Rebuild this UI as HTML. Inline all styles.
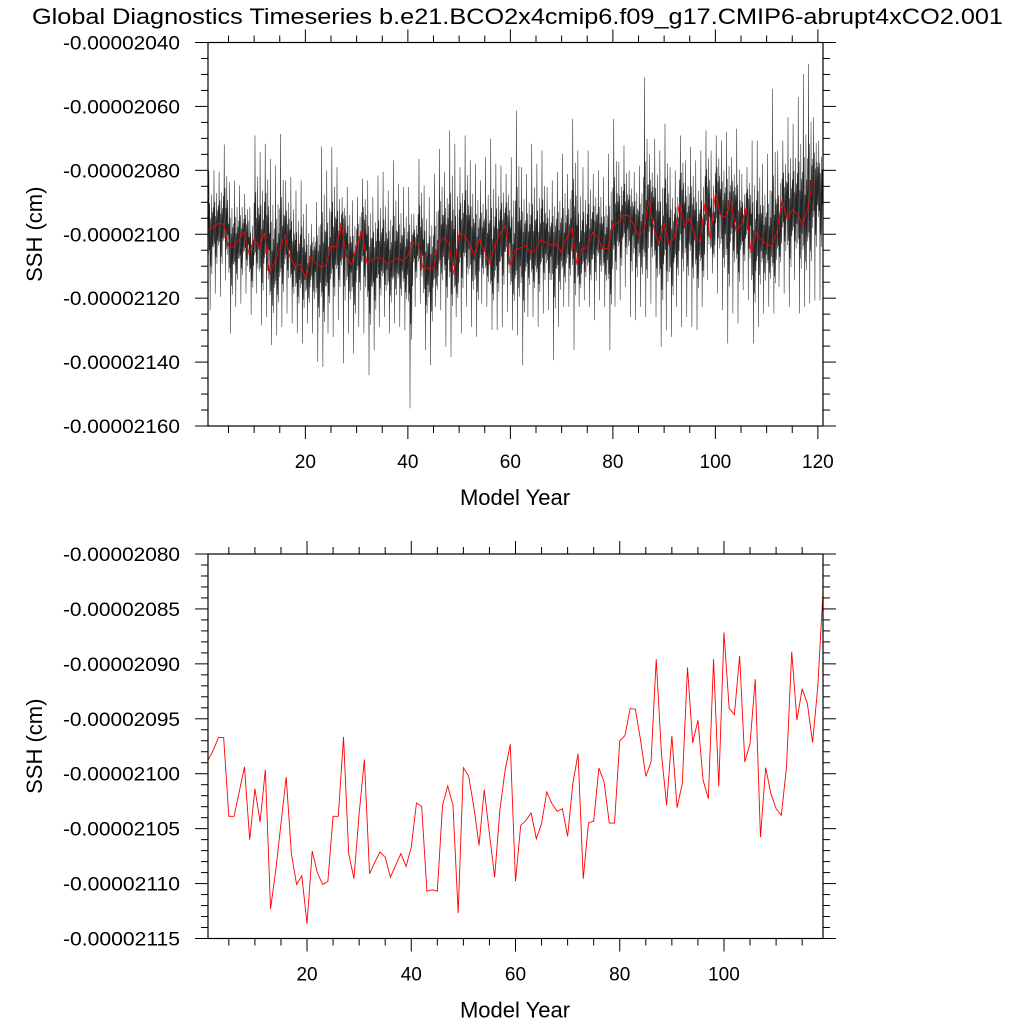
<!DOCTYPE html>
<html><head><meta charset="utf-8"><style>
html,body{margin:0;padding:0;background:#fff;}
svg{display:block;font-family:"Liberation Sans",Arial,sans-serif;}
</style></head><body>
<svg id="chart" width="1024" height="1024" viewBox="0 0 1024 1024" xmlns="http://www.w3.org/2000/svg">
<rect width="1024" height="1024" fill="#fff"/>
<text x="32" y="24" font-size="22" textLength="971" lengthAdjust="spacingAndGlyphs">Global Diagnostics Timeseries b.e21.BCO2x4cmip6.f09_g17.CMIP6-abrupt4xCO2.001</text>
<g id="top"></g>
<g id="bot"></g>
</svg>
<script>
// Annual mean SSH (x1e-5 cm), years 1..119
const annualMean = [-2.09877,-2.09787,-2.09671,-2.09671,-2.10388,-2.10388,-2.10163,-2.09938,-2.10601,-2.10136,
-2.10440,-2.09963,-2.11230,-2.10880,-2.10455,-2.10030,-2.10728,-2.11008,-2.10929,-2.11366,
-2.10704,-2.10905,-2.11008,-2.10981,-2.10388,-2.10388,-2.09665,-2.10728,-2.10956,-2.10364,
-2.09872,-2.10911,-2.10805,-2.10713,-2.10759,-2.10941,-2.10835,-2.10728,-2.10844,-2.10668,
-2.10267,-2.10297,-2.11069,-2.11057,-2.11069,-2.10288,-2.10112,-2.10288,-2.11269,-2.09945,
-2.10020,-2.10303,-2.10653,-2.10145,-2.10546,-2.10941,-2.10333,-2.09969,-2.09732,-2.10978,
-2.10470,-2.10425,-2.10358,-2.10592,-2.10455,-2.10166,-2.10273,-2.10343,-2.10318,-2.10571,
-2.10090,-2.09817,-2.10956,-2.10449,-2.10431,-2.09948,-2.10075,-2.10449,-2.10449,-2.09702,
-2.09653,-2.09407,-2.09413,-2.09695,-2.10024,-2.09893,-2.08957,-2.09817,-2.10288,-2.09656,
-2.10309,-2.10090,-2.09033,-2.09720,-2.09513,-2.10060,-2.10227,-2.08957,-2.10115,-2.08714,
-2.09407,-2.09461,-2.08927,-2.09893,-2.09726,-2.09139,-2.10577,-2.09945,-2.10182,-2.10318,
-2.10379,-2.09938,-2.08890,-2.09513,-2.09227,-2.09361,-2.09717,-2.09209,-2.08343];
// Monthly max per year (years 1..120)
const yearMax = [-2.0800,-2.0800,-2.0805,-2.0719,-2.0837,-2.0832,-2.0847,-2.0873,-2.0915,-2.0691,
-2.0743,-2.0717,-2.0764,-2.0785,-2.0686,-2.0832,-2.0821,-2.0863,-2.0832,-2.0904,
-2.0967,-2.0899,-2.0725,-2.0800,-2.0727,-2.0790,-2.0884,-2.0852,-2.0894,-2.0884,
-2.0826,-2.0832,-2.0884,-2.0816,-2.0805,-2.0863,-2.0769,-2.0842,-2.0852,-2.0852,
-2.0936,-2.0764,-2.0847,-2.0884,-2.0811,-2.0733,-2.0805,-2.0675,-2.0717,-2.0790,
-2.0691,-2.0769,-2.0779,-2.0832,-2.0759,-2.0701,-2.0779,-2.0785,-2.0811,-2.0759,
-2.0613,-2.0790,-2.0811,-2.0717,-2.0779,-2.0738,-2.0852,-2.0832,-2.0805,-2.0748,
-2.0811,-2.0639,-2.0738,-2.0790,-2.0738,-2.0811,-2.0800,-2.0821,-2.0748,-2.0639,
-2.0774,-2.0722,-2.0800,-2.0805,-2.0785,-2.0509,-2.0748,-2.0701,-2.0738,-2.0654,
-2.0790,-2.0800,-2.0691,-2.0769,-2.0727,-2.0769,-2.0738,-2.0675,-2.0738,-2.0691,
-2.0707,-2.0680,-2.0759,-2.0670,-2.0811,-2.0790,-2.0707,-2.0707,-2.0779,-2.0748,
-2.0545,-2.0738,-2.0707,-2.0634,-2.0654,-2.0571,-2.0498,-2.0467,-2.0634,-2.0707];
// Monthly min per year (years 1..120)
const yearMin = [-2.1238,-2.1186,-2.1196,-2.1144,-2.1311,-2.1227,-2.1217,-2.1186,-2.1253,-2.1186,
-2.1285,-2.1259,-2.1347,-2.1316,-2.1290,-2.1248,-2.1279,-2.1311,-2.1342,-2.1279,
-2.1311,-2.1399,-2.1415,-2.1311,-2.1321,-2.1269,-2.1404,-2.1311,-2.1373,-2.1290,
-2.1311,-2.1441,-2.1363,-2.1290,-2.1259,-2.1311,-2.1279,-2.1290,-2.1300,-2.1545,
-2.1227,-2.1217,-2.1363,-2.1410,-2.1227,-2.1238,-2.1352,-2.1384,-2.1259,-2.1311,
-2.1227,-2.1290,-2.1321,-2.1217,-2.1227,-2.1300,-2.1300,-2.1290,-2.1243,-2.1300,
-2.1316,-2.1410,-2.1259,-2.1259,-2.1290,-2.1248,-2.1238,-2.1394,-2.1290,-2.1227,
-2.1227,-2.1363,-2.1227,-2.1207,-2.1227,-2.1269,-2.1207,-2.1227,-2.1363,-2.1227,
-2.1207,-2.1165,-2.1259,-2.1269,-2.1227,-2.1259,-2.1217,-2.1259,-2.1352,-2.1300,
-2.1321,-2.1227,-2.1290,-2.1259,-2.1290,-2.1300,-2.1227,-2.1144,-2.1123,-2.1186,
-2.1238,-2.1342,-2.1248,-2.1279,-2.1175,-2.1207,-2.1342,-2.1290,-2.1248,-2.1227,
-2.1248,-2.1165,-2.1186,-2.1227,-2.1144,-2.1248,-2.1227,-2.1217,-2.1207,-2.1207];
// Within-year monthly excursion fractions (+ toward max, - toward min)
const monthShape = [0.35,-0.3,1.0,-0.25,0.45,-1.0,0.2,-0.45,0.6,-0.55,0.3,-0.2];
const topYTicks = [-2.040,-2.060,-2.080,-2.100,-2.120,-2.140,-2.160];
const topYLabels = ["-0.00002040","-0.00002060","-0.00002080","-0.00002100","-0.00002120","-0.00002140","-0.00002160"];
const botYTicks = [-2.080,-2.085,-2.090,-2.095,-2.100,-2.105,-2.110,-2.115];
const botYLabels = ["-0.00002080","-0.00002085","-0.00002090","-0.00002095","-0.00002100","-0.00002105","-0.00002110","-0.00002115"];
const xTicks = [20,40,60,80,100,120];

const NS="http://www.w3.org/2000/svg";
function mk(parent,tag,attrs){const e=document.createElementNS(NS,tag);for(const k in attrs)e.setAttribute(k,attrs[k]);parent.appendChild(e);return e;}

function panel(g,cfg){
  const L=208,R=823,T=cfg.top,B=cfg.bottom;
  const sx=v=>L+(v-cfg.xmin)/(cfg.xmax-cfg.xmin)*(R-L);
  const sy=v=>T+(cfg.ymax-v)/(cfg.ymax-cfg.ymin)*(B-T);
  if(cfg.black){
    let d="";
    for(let y=1;y<=120;y++){
      const mean=annualMean[Math.min(y,annualMean.length)-1];
      for(let m=0;m<12;m++){
        const f=monthShape[m];
        const v=f>=0?mean+f*(yearMax[y-1]-mean):mean+(-f)*(yearMin[y-1]-mean);
        const t=y+m/12;
        d+=(d?"L":"M")+sx(t).toFixed(2)+","+sy(v).toFixed(2);
      }
    }
    const p=mk(g,"path",{d:d,fill:"none",stroke:"#000","stroke-width":"0.55","stroke-opacity":"0.85"});
    
    
  }
  let d2="";
  annualMean.forEach((v,i)=>{d2+=(i?"L":"M")+sx(i+1).toFixed(2)+","+sy(v).toFixed(2);});
  const r=mk(g,"path",{d:d2,fill:"none",stroke:"#f00","stroke-width":"0.9"});
  
  
  const fr=mk(g,"rect",{x:L,y:T,width:R-L,height:B-T,fill:"none",stroke:"#000","stroke-width":"1.2"});
  
  
  const tk=mk(g,"g",{stroke:"#000","stroke-width":"1"});
  
  
  for(let yr=5;yr<=cfg.xmax;yr+=5){
    const x=sx(yr), len=yr%20===0?13:7;
    mk(tk,"line",{x1:x,y1:B,x2:x,y2:B+len});
    mk(tk,"line",{x1:x,y1:T,x2:x,y2:T-len});
  }
  xTicks.forEach(v=>{
    if(v>cfg.xmax)return;
    const t=mk(g,"text",{x:sx(v),y:B+42,"font-size":"19","text-anchor":"middle"});
    t.textContent=v;
    
    
  });
  const n=Math.round((cfg.ymax-cfg.ymin)/cfg.minor);
  for(let i=0;i<=n;i++){
    const v=cfg.ymax-i*cfg.minor, y=sy(v);
    const major=i%cfg.per===0, len=major?13:7;
    mk(tk,"line",{x1:L,y1:y,x2:L-len,y2:y});
    mk(tk,"line",{x1:R,y1:y,x2:R+len,y2:y});
  }
  cfg.yt.forEach((v,i)=>{
    const t=mk(g,"text",{x:180,y:sy(v)+7,"font-size":"19","text-anchor":"end",textLength:"117",lengthAdjust:"spacingAndGlyphs"});
    t.textContent=cfg.yl[i];
    
    
  });
  const xt=mk(g,"text",{x:515,y:B+79,"font-size":"22","text-anchor":"middle"});
  xt.textContent="Model Year";
  
  
  const cy=(T+B)/2;
  const yt=mk(g,"text",{x:0,y:0,"font-size":"22","text-anchor":"middle",transform:"translate(42,"+cy+") rotate(-90)"});
  yt.textContent="SSH (cm)";
  
  
}
panel(document.getElementById("top"),{top:42.5,bottom:426,xmin:1,xmax:121,ymin:-2.160,ymax:-2.040,minor:0.005,per:4,yt:topYTicks,yl:topYLabels,black:true});
panel(document.getElementById("bot"),{top:554,bottom:938.5,xmin:1,xmax:119,ymin:-2.115,ymax:-2.080,minor:0.001,per:5,yt:botYTicks,yl:botYLabels,black:false});
</script>
</body></html>
